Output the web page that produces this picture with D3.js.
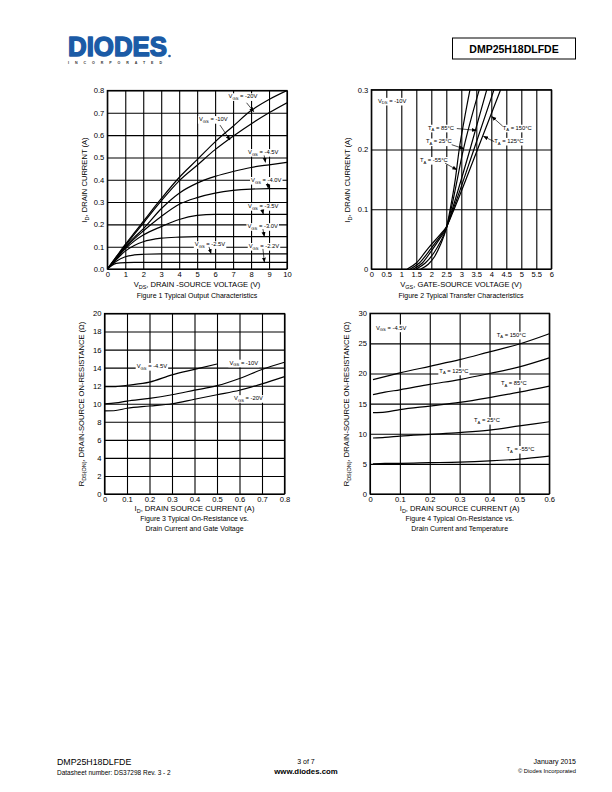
<!DOCTYPE html>
<html><head><meta charset="utf-8">
<script src="https://cdn.jsdelivr.net/npm/d3@7"></script>
<style>
html,body{margin:0;padding:0;background:#fff;}
text{font-family:"Liberation Sans",Arial,sans-serif;fill:#000;}
</style></head>
<body>
<svg id="page" width="612" height="792"></svg>
<script>
// ---------- DATA ----------
// Figure 1: Typical Output Characteristics
const vdsValues = [0,0.5,1,1.5,2,3,4,5,6,7,8,9,10];
const idVgsM20  = [0,0.055,0.11,0.162,0.213,0.315,0.41,0.49,0.57,0.64,0.71,0.76,0.80];
const idVgsM10  = [0,0.053,0.105,0.155,0.205,0.305,0.395,0.465,0.535,0.595,0.65,0.70,0.745];
const idVgsM45  = [0,0.05,0.1,0.142,0.18,0.27,0.34,0.385,0.415,0.437,0.455,0.467,0.478];
const idVgsM40  = [0,0.048,0.095,0.135,0.17,0.235,0.29,0.32,0.34,0.352,0.358,0.36,0.36];
const idVgsM35  = [0,0.046,0.09,0.125,0.152,0.19,0.222,0.24,0.245,0.245,0.245,0.245,0.245];
const idVgsM30  = [0,0.042,0.08,0.105,0.122,0.138,0.143,0.145,0.145,0.145,0.145,0.145,0.145];
const idVgsM25  = [0,0.035,0.055,0.063,0.066,0.068,0.068,0.068,0.068,0.068,0.068,0.068,0.068];
const idVgsM22  = [0,0.025,0.029,0.03,0.03,0.03,0.03,0.03,0.03,0.03,0.03,0.03,0.03];
const fig1XTicks = [0,1,2,3,4,5,6,7,8,9,10];
const fig1YTicks = [0,0.1,0.2,0.3,0.4,0.5,0.6,0.7,0.8];

// Figure 2: Typical Transfer Characteristics (VGS, ID)
const vgsM55 = [1.65,1.9,2.1,2.3,2.5,2.63,2.8,2.93,3.1,3.29];
const idM55  = [0,0.008,0.02,0.04,0.068,0.1,0.15,0.2,0.25,0.3];
const vgs25  = [1.5,1.8,2.1,2.3,2.5,2.66,3.07,3.6];
const id25   = [0,0.01,0.028,0.045,0.068,0.1,0.2,0.3];
const vgs85  = [1.4,1.7,2.0,2.3,2.5,2.7,3.29,3.85];
const id85   = [0,0.01,0.03,0.052,0.068,0.1,0.2,0.3];
const vgs125 = [1.3,1.6,2.0,2.3,2.5,2.73,3.42,4.09];
const id125  = [0,0.01,0.035,0.055,0.07,0.1,0.2,0.3];
const vgs150 = [1.2,1.5,1.9,2.3,2.5,2.76,3.54,4.31];
const id150  = [0,0.01,0.035,0.058,0.07,0.1,0.2,0.3];
const fig2XTicks = [0,0.5,1,1.5,2,2.5,3,3.5,4,4.5,5,5.5,6];
const fig2YTicks = [0,0.1,0.2,0.3];

// Figure 3: On-Resistance vs Drain Current and Gate Voltage
const id3Short = [0,0.05,0.1,0.2,0.3,0.4,0.5];
const rVgsM45  = [11.9,11.9,12.05,12.4,13.2,13.8,14.4];
const id3Full  = [0,0.05,0.1,0.2,0.3,0.4,0.5,0.6,0.7,0.8];
const rVgsM10  = [10.0,10.1,10.3,10.6,11.0,11.5,12.0,12.8,13.8,14.6];
const rVgsM20  = [9.2,9.25,9.5,9.75,10.0,10.5,11.0,11.5,12.2,13.0];
const fig3XTicks = [0,0.1,0.2,0.3,0.4,0.5,0.6,0.7,0.8];
const fig3YTicks = [0,2,4,6,8,10,12,14,16,18,20];

// Figure 4: On-Resistance vs Drain Current and Temperature
const id4 = [0.01,0.05,0.1,0.2,0.3,0.4,0.5,0.6];
const rT150 = [19.0,19.5,20.1,21.2,22.3,23.6,24.9,26.6];
const rT125 = [16.5,16.9,17.3,18.2,19.0,20.0,21.1,22.6];
const rT85  = [13.5,13.6,14.0,14.6,15.2,16.0,16.9,17.9];
const rT25  = [9.3,9.4,9.6,9.9,10.2,10.6,11.3,12.0];
const rTm55 = [5.0,5.1,5.1,5.2,5.3,5.5,5.8,6.3];
const fig4XTicks = [0,0.1,0.2,0.3,0.4,0.5,0.6];
const fig4YTicks = [0,5,10,15,20,25,30];

// ---------- DRAWING ----------
const svg = d3.select("#page");
svg.append("rect").attr("width",612).attr("height",792).attr("fill","#fff");

svg.append("defs").append("marker")
  .attr("id","ah").attr("viewBox","0 0 10 10").attr("refX",9).attr("refY",5)
  .attr("markerWidth",5).attr("markerHeight",5).attr("orient","auto-start-reverse")
  .attr("markerUnits","userSpaceOnUse")
  .append("path").attr("d","M0,1 L10,5 L0,9 z").attr("fill","#000");

// rich text: parts = [[text, isSub], ...]
function rich(g, x, y, parts, size, anchor) {
  const t = g.append("text").attr("x",x).attr("y",y).attr("font-size",size)
    .attr("text-anchor",anchor||"start").attr("fill","#000");
  let prevSub = false;
  parts.forEach(p => {
    if (p[1]) {
      t.append("tspan").text(p[0]).attr("font-size",size*0.72).attr("dy",size*0.28);
    } else {
      t.append("tspan").text(p[0]).attr("dy", prevSub ? -size*0.28 : 0);
    }
    prevSub = !!p[1];
  });
  return t;
}

function whiteBg(g, textSel, pad) {
  const b = textSel.node().getBBox();
  g.insert("rect", () => textSel.node())
    .attr("x",b.x-pad).attr("y",b.y).attr("width",b.width+2*pad).attr("height",b.height)
    .attr("fill","#fff");
}

function panel(cfg) {
  const g = svg.append("g");
  const x = d3.scaleLinear().domain(cfg.xDomain).range(cfg.xRange);
  const y = d3.scaleLinear().domain(cfg.yDomain).range(cfg.yRange);
  const [x0,x1] = cfg.xRange, [y0,y1] = cfg.yRange;
  const gx = g.append("g").attr("transform",`translate(0,${y0})`)
    .call(d3.axisBottom(x).tickValues(cfg.xTicks).tickSize(-(y0-y1)).tickPadding(3).tickFormat(cfg.xFmt));
  const gy = g.append("g").attr("transform",`translate(${x0},0)`)
    .call(d3.axisLeft(y).tickValues(cfg.yTicks).tickSize(-(x1-x0)).tickPadding(3).tickFormat(cfg.yFmt));
  [gx,gy].forEach(a => {
    a.select(".domain").remove();
    a.selectAll("line").attr("stroke","#000").attr("stroke-width",1.1);
    a.selectAll("text").attr("font-size",7.6).attr("fill","#000")
      .attr("font-family","Liberation Sans, Arial, sans-serif");
  });
  g.append("rect").attr("x",x0).attr("y",y1).attr("width",x1-x0).attr("height",y0-y1)
    .attr("fill","none").attr("stroke","#000").attr("stroke-width",1.2);
  const line = d3.line().x(d=>x(d[0])).y(d=>y(d[1])).curve(d3.curveMonotoneX);
  const clip = "clip"+cfg.id;
  g.append("clipPath").attr("id",clip).append("rect")
    .attr("x",x0).attr("y",y1).attr("width",x1-x0).attr("height",y0-y1);
  const cg = g.append("g").attr("clip-path",`url(#${clip})`);
  cfg.series.forEach(s => {
    cg.append("path").datum(d3.zip(s.x, s.y)).attr("d",line)
      .attr("fill","none").attr("stroke","#000").attr("stroke-width",1.2);
  });
  (cfg.notes||[]).forEach(n => {
    const t = rich(g, x(n.at[0]), y(n.at[1]), n.parts, 5.8, n.anchor);
    if (n.bg) whiteBg(g, t, 1);
    if (n.arrow) {
      g.append("line").attr("x1",x(n.arrow[0])).attr("y1",y(n.arrow[1]))
        .attr("x2",x(n.arrow[2])).attr("y2",y(n.arrow[3]))
        .attr("stroke","#000").attr("stroke-width",0.7).attr("marker-end","url(#ah)");
    }
  });
  return {g,x,y};
}

const fmt1 = d3.format(".1f");
const fmtG = d => d3.format("")(d);

// Figure 1
panel({
  id:1, xDomain:[0,10], yDomain:[0,0.8], xRange:[107.3,287], yRange:[269,90.5],
  xTicks:fig1XTicks, yTicks:fig1YTicks, xFmt:fmtG, yFmt:fmt1,
  series:[idVgsM20,idVgsM10,idVgsM45,idVgsM40,idVgsM35,idVgsM30,idVgsM25,idVgsM22].map(a=>({x:vdsValues,y:a})),
  notes:[
    {at:[6.75,0.765], parts:[["V"],["GS",1],[" = -20V"]], bg:1, arrow:[7.75,0.745,8.15,0.705]},
    {at:[5.1,0.663], parts:[["V"],["GS",1],[" = -10V"]], bg:1, arrow:[6.27,0.645,6.83,0.578]},
    {at:[7.83,0.515], parts:[["V"],["GS",1],[" = -4.5V"]], bg:1, arrow:[8.73,0.509,8.8,0.478]},
    {at:[8.0,0.39], parts:[["V"],["GS",1],[" = -4.0V"]], bg:1, arrow:[8.92,0.386,8.96,0.362]},
    {at:[7.83,0.273], parts:[["V"],["GS",1],[" = -3.5V"]], bg:1, arrow:[8.61,0.269,8.68,0.246]},
    {at:[7.8,0.183], parts:[["V"],["GS",1],[" = -3.0V"]], bg:1, arrow:[8.66,0.179,8.74,0.146]},
    {at:[4.87,0.102], parts:[["V"],["GS",1],[" = -2.5V"]], bg:1, arrow:[5.66,0.099,5.77,0.069]},
    {at:[7.87,0.094], parts:[["V"],["GS",1],[" = -2.2V"]], bg:1, arrow:[8.66,0.09,8.74,0.031]}
  ]
});

// Figure 2
panel({
  id:2, xDomain:[0,6], yDomain:[0,0.3], xRange:[371.3,551.3], yRange:[269,89.7],
  xTicks:fig2XTicks, yTicks:fig2YTicks, xFmt:fmtG, yFmt:fmtG,
  series:[[vgsM55,idM55],[vgs25,id25],[vgs85,id85],[vgs125,id125],[vgs150,id150]].map(a=>({x:a[0],y:a[1]})),
  notes:[
    {at:[0.22,0.278], parts:[["V"],["DS",1],[" = -10V"]], bg:1},
    {at:[1.89,0.233], parts:[["T"],["A",1],[" = 85°C"]], bg:1, arrow:[2.85,0.235,3.5,0.232]},
    {at:[1.82,0.21], parts:[["T"],["A",1],[" = 25°C"]], bg:1, arrow:[2.68,0.208,3.09,0.201]},
    {at:[1.62,0.179], parts:[["T"],["A",1],[" = -55°C"]], bg:1, arrow:[2.46,0.177,2.85,0.166]},
    {at:[4.38,0.233], parts:[["T"],["A",1],[" = 150°C"]], bg:1, arrow:[4.38,0.239,4.02,0.255]},
    {at:[4.1,0.211], parts:[["T"],["A",1],[" = 125°C"]], bg:1, arrow:[4.1,0.213,3.74,0.222]}
  ]
});

// Figure 3
panel({
  id:3, xDomain:[0,0.8], yDomain:[0,20], xRange:[104.5,284.5], yRange:[494,313.5],
  xTicks:fig3XTicks, yTicks:fig3YTicks, xFmt:fmtG, yFmt:fmtG,
  series:[{x:id3Short,y:rVgsM45},{x:id3Full,y:rVgsM10},{x:id3Full,y:rVgsM20}],
  notes:[
    {at:[0.143,13.96], parts:[["V"],["GS",1],[" = -4.5V"]], bg:1},
    {at:[0.555,14.33], parts:[["V"],["GS",1],[" = -10V"]], bg:1},
    {at:[0.576,10.4], parts:[["V"],["GS",1],[" = -20V"]], bg:1}
  ]
});

// Figure 4
panel({
  id:4, xDomain:[0,0.6], yDomain:[0,30], xRange:[370,549.3], yRange:[494,313.3],
  xTicks:fig4XTicks, yTicks:fig4YTicks, xFmt:fmtG, yFmt:fmtG,
  series:[rT150,rT125,rT85,rT25,rTm55].map(a=>({x:id4,y:a})),
  notes:[
    {at:[0.02,27.3], parts:[["V"],["GS",1],[" = -4.5V"]], bg:1},
    {at:[0.424,26.1], parts:[["T"],["A",1],[" = 150°C"]], bg:1},
    {at:[0.232,20.15], parts:[["T"],["A",1],[" = 125°C"]], bg:1},
    {at:[0.438,18.1], parts:[["T"],["A",1],[" = 85°C"]], bg:1},
    {at:[0.348,11.96], parts:[["T"],["A",1],[" = 25°C"]], bg:1},
    {at:[0.457,7.14], parts:[["T"],["A",1],[" = -55°C"]], bg:1}
  ]
});

// Axis titles & captions
function xTitle(cx, y, parts) { rich(svg, cx, y, parts, 7.6, "middle"); }
function caption(cx, y, s) { svg.append("text").attr("x",cx).attr("y",y).attr("font-size",7)
  .attr("fill","#000").attr("text-anchor","middle").text(s); }
function yTitle(x, cy, parts) {
  const g = svg.append("g").attr("transform",`translate(${x},${cy}) rotate(-90)`);
  rich(g, 0, 0, parts, 7.6, "middle");
}
xTitle(197, 287, [["V"],["DS",1],[", DRAIN -SOURCE VOLTAGE (V)"]]);
caption(197, 298, "Figure 1 Typical Output Characteristics");
yTitle(87, 180, [["I"],["D",1],[", DRAIN CURRENT (A)"]]);

xTitle(461, 287, [["V"],["GS",1],[", GATE-SOURCE VOLTAGE (V)"]]);
caption(461, 298, "Figure 2 Typical Transfer Characteristics");
yTitle(350, 180, [["I"],["D",1],[", DRAIN CURRENT (A)"]]);

xTitle(194.5, 511, [["I"],["D",1],[", DRAIN SOURCE CURRENT (A)"]]);
caption(194.5, 521, "Figure 3 Typical On-Resistance vs.");
caption(194.5, 530.5, "Drain Current and Gate Voltage");
yTitle(84, 404, [["R"],["DS(ON)",1],[", DRAIN-SOURCE ON-RESISTANCE (Ω)"]]);

xTitle(459.7, 511, [["I"],["D",1],[", DRAIN SOURCE CURRENT (A)"]]);
caption(459.7, 521, "Figure 4 Typical On-Resistance vs.");
caption(459.7, 530.5, "Drain Current and Temperature");
yTitle(349, 404, [["R"],["DS(ON)",1],[", DRAIN-SOURCE ON-RESISTANCE (Ω)"]]);

// Header
svg.append("text").attr("x",68).attr("y",56).attr("font-size",28).attr("font-weight",900)
  .attr("textLength",99).attr("lengthAdjust","spacingAndGlyphs")
  .style("fill","#1b5ba6").style("stroke","#1b5ba6").style("stroke-width",1.6)
  .style("stroke-linejoin","round").text("DIODES");
svg.append("text").attr("x",68).attr("y",63.5).attr("font-size",3.6).attr("font-weight",700)
  .attr("textLength",94).attr("lengthAdjust","spacing").style("fill","#333")
  .text("INCORPORATED");
svg.append("circle").attr("cx",169.5).attr("cy",56).attr("r",1.3).attr("fill","#1b5ba6");
svg.append("rect").attr("x",452.5).attr("y",38).attr("width",123).attr("height",21)
  .attr("fill","none").attr("stroke","#000").attr("stroke-width",1);
svg.append("text").attr("x",514).attr("y",52.5).attr("font-size",10.5).attr("font-weight",700)
  .attr("fill","#000").attr("text-anchor","middle").text("DMP25H18DLFDE");

// Footer
const foot = (x,y,fs,anchor,s,bold) => svg.append("text").attr("x",x).attr("y",y)
  .attr("font-size",fs).attr("text-anchor",anchor).attr("font-weight",bold?700:400)
  .style("fill","#000").text(s);
foot(57,765,8.8,"start","DMP25H18DLFDE");
foot(57,775,6.5,"start","Datasheet number: DS37298 Rev. 3 - 2");
foot(306,764,7,"middle","3 of 7");
foot(306,773.5,7.8,"middle","www.diodes.com",true);
foot(576,764,7,"end","January 2015");
foot(576,773,5.8,"end","© Diodes Incorporated");
</script>
</body></html>
